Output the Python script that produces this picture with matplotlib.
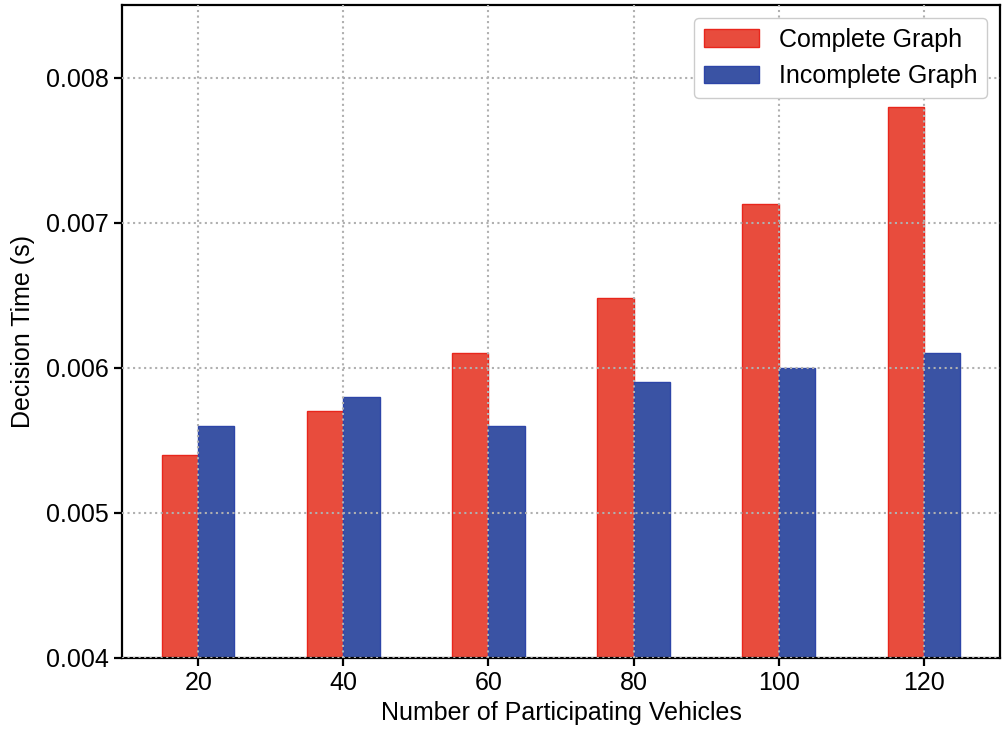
import numpy as np
from matplotlib import pyplot as plt

vehicles = ["20", "40", "60", "80", "100", "120"]
complete_graph = [0.0054, 0.0057, 0.0061, 0.00648, 0.00713, 0.0078]
incomplete_graph = [0.0056, 0.0058, 0.0056, 0.0059, 0.0060, 0.0061]

plt.rcParams['font.family'] = ['Liberation Sans', 'DejaVu Sans']
plt.rcParams['font.size'] = 18

fig = plt.figure(figsize=(10.05, 7.37), dpi=100)
ax = fig.add_axes([0.1214, 0.1072, 0.8736, 0.886])

x = np.arange(len(vehicles))
w = 0.25
ax.bar(x - w / 2, complete_graph, w, color='#E84C3D', edgecolor='#E8261C', linewidth=1, label='Complete Graph')
ax.bar(x + w / 2, incomplete_graph, w, color='#3A53A4', edgecolor='#2D45A8', linewidth=1, label='Incomplete Graph')

ax.set_xticks(x)
ax.set_xticklabels(vehicles)
ax.set_ylim(0.004, 0.0085)
ax.set_yticks([0.004, 0.005, 0.006, 0.007, 0.008])
ax.set_yticklabels(['0.004', '0.005', '0.006', '0.007', '0.008'])
ax.set_xlabel('Number of Participating Vehicles', labelpad=4)
ax.set_ylabel('Decision Time (s)', labelpad=8)

ax.set_axisbelow(False)
ax.grid(True, linestyle=':', color='#B0B0B0', linewidth=1.5)
for s in ax.spines.values():
    s.set_linewidth(1.6)
ax.tick_params(width=1.6, length=6)

ax.legend(loc='upper right', fontsize=18, handlelength=2.2, framealpha=1)

fig.savefig('out.png', dpi=100)
